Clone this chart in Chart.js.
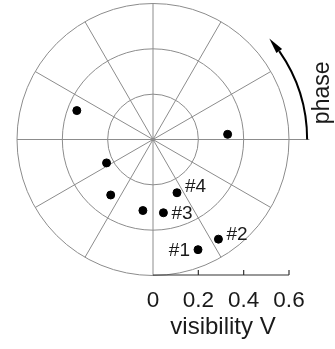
<!DOCTYPE html>
<html>
<head>
<meta charset="utf-8">
<script src="https://cdn.jsdelivr.net/npm/chart.js@4.4.1/dist/chart.umd.min.js"></script>
<style>
  html, body { margin: 0; padding: 0; background: #fff; }
  #wrap { width: 335px; height: 349px; position: relative; }
</style>
</head>
<body>
<div id="wrap"><canvas id="c" width="335" height="349"></canvas></div>
<script>
// Measured visibility (radius) and phase (degrees) of each sample
const visibility = [0.36, 0.33, 0.23, 0.31, 0.32, 0.33, 0.26, 0.53, 0.53];
const phaseDeg   = [159, 4, 207, 233, 262, 278, 294, 303, 292];
const pointTags  = ['', '', '', '', '', '#3', '#4', '#2', '#1'];

// Polar grid and the visibility axis
const rings = [0.2, 0.4, 0.6];
const spokeStepDeg = 30;
const vTicks = [0, 0.2, 0.4, 0.6];
const vTickLabels = ['0', '0.2', '0.4', '0.6'];
const axisTitle = 'visibility V';
const phaseTitle = 'phase';
const rMax = 0.6;

const FONT = '"Liberation Sans", Arial, Helvetica, sans-serif';
const GRID = '#8c8c8c';

const points = visibility.map((v, i) => {
  const a = phaseDeg[i] * Math.PI / 180;
  return { x: v * Math.cos(a), y: v * Math.sin(a) };
});

const polarPlugin = {
  id: 'polarPlugin',
  beforeDatasetsDraw(chart) {
    const ctx = chart.ctx;
    const xs = chart.scales.x, ys = chart.scales.y;
    const cx = xs.getPixelForValue(0), cy = ys.getPixelForValue(0);
    const rp = v => xs.getPixelForValue(v) - cx;
    ctx.save();
    ctx.strokeStyle = GRID;
    ctx.lineWidth = 1;
    // rings
    rings.forEach(r => {
      ctx.beginPath();
      ctx.arc(cx, cy, rp(r), 0, Math.PI * 2);
      ctx.stroke();
    });
    // spokes (the zero-phase spoke runs out under the arrow)
    for (let d = 0; d < 360; d += spokeStepDeg) {
      const a = d * Math.PI / 180;
      const len = d === 0 ? rp(0.69) : rp(rMax);
      ctx.beginPath();
      ctx.moveTo(cx, cy);
      ctx.lineTo(cx + len * Math.cos(a), cy - len * Math.sin(a));
      ctx.stroke();
    }
    ctx.fillStyle = GRID;
    ctx.beginPath();
    ctx.arc(cx, cy, 1.8, 0, Math.PI * 2);
    ctx.fill();

    // phase arrow
    const ra = rp(0.68);
    const endA = 41 * Math.PI / 180;
    const baseA = 35 * Math.PI / 180;
    ctx.strokeStyle = '#000';
    ctx.lineWidth = 2;
    ctx.beginPath();
    ctx.arc(cx, cy, ra, 0, -baseA, true);
    ctx.stroke();
    const tip = { x: cx + ra * Math.cos(endA), y: cy - ra * Math.sin(endA) };
    const bx = cx + ra * Math.cos(baseA), by = cy - ra * Math.sin(baseA);
    const nx = Math.cos(baseA), ny = -Math.sin(baseA);
    const hw = 3.5;
    ctx.fillStyle = '#000';
    ctx.beginPath();
    ctx.moveTo(tip.x, tip.y);
    ctx.lineTo(bx + nx * hw, by + ny * hw);
    ctx.lineTo(bx - nx * hw, by - ny * hw);
    ctx.closePath();
    ctx.fill();

    // phase title
    ctx.save();
    ctx.translate(cx + rp(0.748), cy - rp(0.206));
    ctx.rotate(-Math.PI / 2);
    ctx.font = '23px ' + FONT;
    ctx.fillStyle = '#1a1a1a';
    ctx.textAlign = 'center';
    ctx.textBaseline = 'middle';
    ctx.fillText(phaseTitle, 0, 0);
    ctx.restore();

    // visibility axis below the plot
    const ay = ys.getPixelForValue(-rMax) + 1;
    ctx.strokeStyle = '#333';
    ctx.lineWidth = 1.2;
    ctx.beginPath();
    ctx.moveTo(xs.getPixelForValue(0), ay);
    ctx.lineTo(xs.getPixelForValue(rMax), ay);
    ctx.stroke();
    vTicks.forEach(t => {
      if (t === 0) return;
      const px = xs.getPixelForValue(t);
      ctx.beginPath();
      ctx.moveTo(px, ay);
      ctx.lineTo(px, ay - 5);
      ctx.stroke();
    });
    ctx.fillStyle = '#1a1a1a';
    ctx.font = '22.5px ' + FONT;
    ctx.textAlign = 'center';
    ctx.textBaseline = 'middle';
    vTicks.forEach((t, i) => {
      ctx.fillText(vTickLabels[i], xs.getPixelForValue(t), ay + 26);
    });
    ctx.font = '24px ' + FONT;
    ctx.fillText(axisTitle, (xs.getPixelForValue(0) + xs.getPixelForValue(rMax)) / 2 + 2, ay + 52);
    ctx.restore();
  },
  afterDatasetsDraw(chart) {
    const ctx = chart.ctx;
    const meta = chart.getDatasetMeta(0);
    ctx.save();
    ctx.font = '19px ' + FONT;
    ctx.fillStyle = '#1a1a1a';
    ctx.textBaseline = 'middle';
    meta.data.forEach((el, i) => {
      const tag = pointTags[i];
      if (!tag) return;
      if (tag === '#1') {
        ctx.textAlign = 'right';
        ctx.fillText(tag, el.x - 8, el.y + 1);
      } else {
        ctx.textAlign = 'left';
        const dy = tag === '#4' ? -6 : (tag === '#2' ? -4 : 1);
        ctx.fillText(tag, el.x + 8, el.y + dy);
      }
    });
    ctx.restore();
  }
};

new Chart(document.getElementById('c'), {
  type: 'scatter',
  data: {
    datasets: [{
      data: points,
      backgroundColor: '#000',
      borderColor: '#000',
      pointRadius: 4,
      pointHoverRadius: 4,
      clip: false
    }]
  },
  options: {
    responsive: false,
    animation: false,
    events: [],
    layout: { padding: { left: 17, right: 46, top: 2, bottom: 75 } },
    scales: {
      x: { type: 'linear', min: -rMax, max: rMax, display: false },
      y: { type: 'linear', min: -rMax, max: rMax, display: false }
    },
    plugins: { legend: { display: false }, tooltip: { enabled: false } }
  },
  plugins: [polarPlugin]
});
</script>
</body>
</html>
